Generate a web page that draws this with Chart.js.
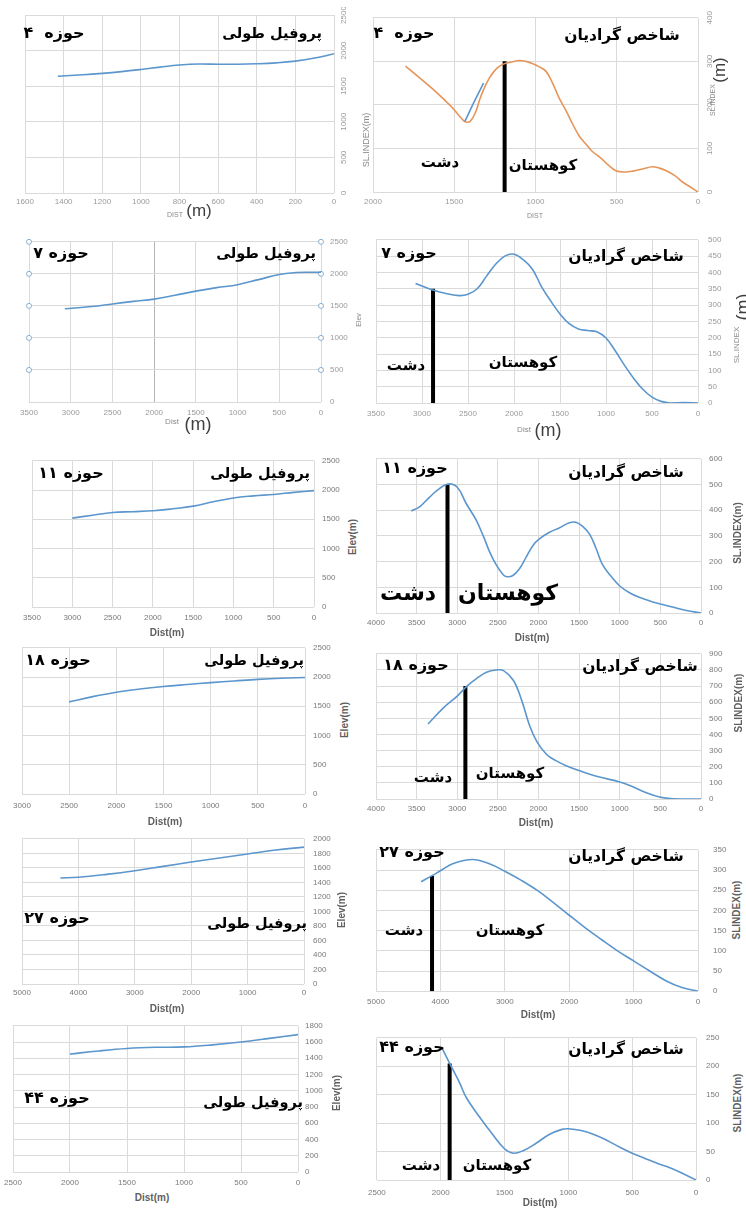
<!DOCTYPE html>
<html>
<head>
<meta charset="utf-8">
<title>Longitudinal profiles and SL index</title>
<script src="https://cdn.jsdelivr.net/npm/chart.js@4.4.1/dist/chart.umd.min.js"></script>
<style>
  body { margin: 0; background: #fff; }
  #sheet { position: relative; width: 746px; height: 1211px; overflow: hidden; background: #fff; }
  #sheet canvas { position: absolute; }
  .lbl { position: absolute; white-space: pre; line-height: 1; transform: translate(-50%, -50%); }
  .lbl.rot { transform: translate(-50%, -50%) rotate(-90deg); }
  .fa { font-family: 'DejaVu Sans', sans-serif; font-weight: bold; color: #000; direction: rtl; }
  .ax { font-family: 'Liberation Sans', sans-serif; color: #8a8a8a; }
  .axm { font-family: 'Liberation Sans', sans-serif; color: #3f3f3f; }
  .axb { font-family: 'Liberation Sans', sans-serif; font-weight: bold; color: #5f5f5f; }
</style>
</head>
<body>
<div id="sheet"></div>
<script>
// ---- basin 4 ----
const b4ProfileDist = [1430, 1300, 1200, 1100, 1000, 900, 800, 700, 600, 500, 400, 300, 200, 100, 0];
const b4ProfileElev = [1640, 1660, 1680, 1705, 1735, 1768, 1797, 1812, 1808, 1808, 1815, 1828, 1852, 1895, 1955];
const b4SlDist = [1800, 1700, 1640, 1570, 1510, 1470, 1440, 1420, 1400, 1370, 1340, 1310, 1285, 1255, 1225, 1180, 1140, 1100, 1060, 1020, 980, 935, 895, 855, 810, 770, 730, 690, 650, 605, 555, 505, 450, 400, 340, 280, 240, 195, 140, 95, 45, 0];
const b4Sl = [289, 258, 239, 215, 193, 175, 163, 160, 163, 182, 216, 243, 261, 277, 288, 296, 299, 302, 300, 295, 288, 277, 250, 216, 185, 155, 128, 110, 93, 80, 63, 49, 46, 48, 53, 58, 55, 49, 37, 23, 11, 0];
const b4SlAltDist = [1435, 1380, 1320];
const b4SlAlt = [162, 205, 250];

// ---- basin 7 ----
const b7ProfileDist = [3070, 2750, 2500, 2250, 2000, 1750, 1500, 1250, 1000, 750, 500, 300, 150, 0];
const b7ProfileElev = [1455, 1490, 1530, 1570, 1605, 1665, 1730, 1785, 1830, 1910, 1990, 2020, 2025, 2025];
const b7MarkerDist = [3500, 0];
const b7MarkerElev = [500, 1000, 1500, 2000, 2500];
const b7SlDist = [3070, 2900, 2750, 2600, 2500, 2400, 2300, 2200, 2100, 2000, 1900, 1800, 1700, 1600, 1500, 1400, 1300, 1200, 1100, 1000, 900, 800, 700, 600, 500, 400, 300, 150, 0];
const b7Sl = [366, 348, 336, 329, 333, 350, 388, 425, 450, 456, 439, 410, 356, 312, 273, 243, 227, 222, 218, 199, 160, 116, 76, 42, 18, 5, 0, 1, 0];

// ---- basin 11 ----
const b11ProfileDist = [3000, 2750, 2500, 2250, 2000, 1750, 1500, 1250, 1000, 750, 500, 250, 0];
const b11ProfileElev = [1520, 1570, 1615, 1630, 1645, 1680, 1725, 1800, 1865, 1900, 1925, 1960, 1990];
const b11SlDist = [3566, 3460, 3340, 3240, 3115, 3000, 2890, 2770, 2680, 2600, 2520, 2440, 2400, 2320, 2230, 2150, 2070, 1990, 1870, 1740, 1620, 1540, 1460, 1370, 1290, 1210, 1090, 1000, 880, 760, 640, 500, 350, 180, 0];
const b11Sl = [397, 414, 451, 479, 502, 489, 426, 363, 300, 237, 187, 151, 142, 145, 174, 218, 262, 288, 313, 332, 351, 353, 338, 306, 250, 187, 136, 105, 79, 61, 48, 35, 23, 10, 0];

// ---- basin 18 ----
const b18ProfileDist = [2500, 2250, 2000, 1750, 1500, 1250, 1000, 750, 500, 250, 0];
const b18ProfileElev = [1575, 1665, 1740, 1795, 1838, 1872, 1904, 1932, 1960, 1980, 1992];
const b18SlDist = [3360, 3170, 3000, 2880, 2760, 2640, 2520, 2430, 2310, 2210, 2110, 2020, 1900, 1780, 1660, 1500, 1250, 1000, 840, 680, 510, 350, 0];
const b18Sl = [465, 565, 638, 700, 748, 786, 800, 796, 736, 616, 456, 356, 276, 236, 206, 176, 136, 106, 76, 40, 12, 2, 0];

// ---- basin 27 ----
const b27ProfileDist = [4320, 4000, 3500, 3000, 2500, 2000, 1500, 1000, 500, 0];
const b27ProfileElev = [1460, 1470, 1510, 1560, 1620, 1680, 1735, 1790, 1845, 1885];
const b27SlDist = [4300, 4130, 4000, 3800, 3500, 3250, 3000, 2750, 2500, 2250, 2000, 1750, 1500, 1250, 1000, 750, 500, 250, 0];
const b27Sl = [271, 286, 298, 316, 326, 316, 297, 275, 250, 220, 188, 157, 128, 100, 75, 50, 26, 9, 0];

// ---- basin 44 ----
const b44ProfileDist = [2000, 1750, 1500, 1250, 1000, 750, 500, 250, 0];
const b44ProfileElev = [1452, 1490, 1520, 1535, 1540, 1565, 1600, 1645, 1692];
const b44SlDist = [1990, 1930, 1850, 1800, 1700, 1600, 1500, 1430, 1350, 1250, 1150, 1050, 1000, 900, 800, 700, 600, 500, 400, 300, 200, 100, 0];
const b44Sl = [232, 205, 170, 145, 112, 82, 55, 47, 52, 65, 80, 89, 90, 87, 80, 70, 58, 47, 38, 29, 21, 11, 0];

// plain / mountain boundary per basin (4, 7, 11, 18, 27, 44)
const divideDist = [1190, 2880, 3120, 2900, 4130, 1930];
const divideTop = [300, 350, 500, 700, 285, 205];

const BLUE = '#5b96cd';
const ORANGE = '#e6955a';
const GRID = '#dadada';

function pts(xs, ys) {
    return xs.map((x, i) => ({ x: x, y: ys[i] }));
}

function curve(xs, ys, color) {
    return { data: pts(xs, ys), borderColor: color || BLUE, borderWidth: 1.6, pointRadius: 0, tension: 0.4 };
}

function divider(i) {
    return { data: pts([divideDist[i], divideDist[i]], [0, divideTop[i]]), borderColor: '#000',
             borderWidth: 4, pointRadius: 0, tension: 0 };
}

// hollow markers along both edges of the basin 7 profile
const b7Markers = [];
b7MarkerDist.forEach(d => b7MarkerElev.forEach(e => b7Markers.push({ x: d, y: e })));

const panels = [
    { l: 25, t: 15, r: 334, b: 193, xMax: 1600, xStep: 200, yMax: 2500, yStep: 500, yw: 16, yPad: 1, xPad: 4,
      rotY: true, light: true, sets: [curve(b4ProfileDist, b4ProfileElev)] },
    { l: 373, t: 16, r: 698, b: 192, xMax: 2000, xStep: 500, yMax: 400, yStep: 100, yw: 20, yPad: 5, xPad: 5,
      rotY: true, light: true,
      sets: [curve(b4SlAltDist, b4SlAlt), curve(b4SlDist, b4Sl, ORANGE), divider(0)] },
    { l: 29, t: 236, r: 321, b: 402, xMax: 3500, xStep: 500, yMax: 2500, yStep: 500, yw: 30, yPad: 9, xPad: 6,
      light: true, accentX: 2000,
      sets: [curve(b7ProfileDist, b7ProfileElev),
             { type: 'scatter', data: b7Markers, pointRadius: 2.5, borderWidth: 1, pointBackgroundColor: '#fff',
               borderColor: '#8aaed0', showLine: false, clip: false }] },
    { l: 376, t: 233, r: 698, b: 403, xMax: 3500, xStep: 500, yMax: 500, yStep: 50, yw: 30, yPad: 10, xPad: 6,
      light: true, sets: [curve(b7SlDist, b7Sl), divider(1)] },
    { l: 32, t: 456, r: 314, b: 607, xMax: 3500, xStep: 500, yMax: 2500, yStep: 500, yw: 30, yPad: 8, xPad: 6,
      sets: [curve(b11ProfileDist, b11ProfileElev)] },
    { l: 376, t: 454, r: 701, b: 613, xMax: 4000, xStep: 500, yMax: 600, yStep: 100, yw: 30, yPad: 8, xPad: 5,
      sets: [curve(b11SlDist, b11Sl), divider(2)] },
    { l: 22, t: 643, r: 305, b: 794, xMax: 3000, xStep: 500, yMax: 2500, yStep: 500, yw: 30, yPad: 8, xPad: 7,
      sets: [curve(b18ProfileDist, b18ProfileElev)] },
    { l: 376, t: 649, r: 701, b: 799, xMax: 4000, xStep: 500, yMax: 900, yStep: 100, yw: 30, yPad: 8, xPad: 5,
      sets: [curve(b18SlDist, b18Sl), divider(3)] },
    { l: 22, t: 833, r: 304, b: 984, xMax: 5000, xStep: 1000, yMax: 2000, yStep: 200, yw: 30, yPad: 9, xPad: 4,
      sets: [curve(b27ProfileDist, b27ProfileElev)] },
    { l: 376, t: 838, r: 698, b: 993, xMax: 5000, xStep: 1000, yMax: 350, yStep: 50, yw: 30, yPad: 15, xPad: 6,
      sets: [curve(b27SlDist, b27Sl), divider(4)] },
    { l: 13, t: 1022, r: 298, b: 1172, xMax: 2500, xStep: 500, yMax: 1800, yStep: 200, yw: 30, yPad: 7, xPad: 6,
      sets: [curve(b44ProfileDist, b44ProfileElev)] },
    { l: 376, t: 1031, r: 696, b: 1180, xMax: 2500, xStep: 500, yMax: 250, yStep: 50, yw: 30, yPad: 10, xPad: 8,
      sets: [curve(b44SlDist, b44Sl), divider(5)] }
];

// text placed over the charts: [text, centre x, centre y, size, classes]
const labels = [
    ['حوزه  ۴', 54, 33, 16, 'fa'], ['پروفیل طولی', 272, 33, 14.5, 'fa'],
    ['DIST', 175, 214, 7, 'ax'], ['(m)', 199, 210, 17, 'axm'], ['SL.INDEX(m)', 366, 140, 9, 'ax rot'],

    ['حوزه  ۴', 404, 33, 16, 'fa'], ['شاخص گرادیان', 622, 36, 15.5, 'fa'],
    ['دشت', 440, 162, 15, 'fa'], ['کوهستان', 543, 165, 15, 'fa'],
    ['DIST', 535, 215, 7, 'ax'], ['SL.INDEX', 712, 100, 7, 'ax rot'], ['(m)', 719, 70, 17, 'axm rot'],

    ['حوزه ۷', 61, 253, 16, 'fa'], ['پروفیل طولی', 266, 253, 14.5, 'fa'],
    ['Dist', 172, 422, 8, 'ax'], ['(m)', 198, 424, 18, 'axm'], ['Elev', 358, 320, 7, 'ax rot'],

    ['حوزه ۷', 409, 253, 16, 'fa'], ['شاخص گرادیان', 626, 257, 15.5, 'fa'],
    ['دشت', 406, 365, 15, 'fa'], ['کوهستان', 523, 362, 15, 'fa'],
    ['Dist', 524, 430, 8, 'ax'], ['(m)', 548, 430, 18, 'axm'],
    ['SL.INDEX', 737, 345, 8, 'ax rot'], ['(m)', 743, 307, 18, 'axm rot'],

    ['حوزه ۱۱', 71, 473, 16, 'fa'], ['پروفیل طولی', 260, 473, 14.5, 'fa'],
    ['Dist(m)', 167, 633, 10, 'axb'], ['Elev(m)', 353, 537, 10, 'axb rot'],

    ['حوزه ۱۱', 415, 468, 16, 'fa'], ['شاخص گرادیان', 626, 473, 15.5, 'fa'],
    ['دشت', 408, 593, 22, 'fa'], ['کوهستان', 508, 593, 22, 'fa'],
    ['SL.INDEX(m)', 738, 533, 10, 'axb rot'], ['Dist(m)', 532, 638, 10, 'axb'],

    ['حوزه ۱۸', 58, 660, 16, 'fa'], ['پروفیل طولی', 254, 660, 14.5, 'fa'],
    ['Elev(m)', 345, 720, 10, 'axb rot'], ['Dist(m)', 165, 822, 10, 'axb'],

    ['حوزه ۱۸', 416, 665, 16, 'fa'], ['شاخص گرادیان', 640, 667, 15.5, 'fa'],
    ['دشت', 433, 777, 15, 'fa'], ['کوهستان', 510, 773, 15, 'fa'],
    ['SLINDEX(m)', 739, 703, 10, 'axb rot'], ['Dist(m)', 536, 823, 10, 'axb'],

    ['حوزه ۲۷', 57, 918, 16, 'fa'], ['پروفیل طولی', 257, 923, 14.5, 'fa'],
    ['Elev(m)', 342, 910, 10, 'axb rot'], ['Dist(m)', 167, 1009, 10, 'axb'],

    ['حوزه ۲۷', 412, 852, 16, 'fa'], ['شاخص گرادیان', 626, 857, 15.5, 'fa'],
    ['دشت', 404, 930, 15, 'fa'], ['کوهستان', 510, 930, 15, 'fa'],
    ['SLINDEX(m)', 737, 910, 10, 'axb rot'], ['Dist(m)', 538, 1015, 10, 'axb'],

    ['حوزه ۴۴', 57, 1098, 16, 'fa'], ['پروفیل طولی', 253, 1102, 14.5, 'fa'],
    ['Elev(m)', 337, 1093, 10, 'axb rot'], ['Dist(m)', 152, 1198, 10, 'axb'],

    ['حوزه ۴۴', 412, 1047, 16, 'fa'], ['شاخص گرادیان', 626, 1050, 15.5, 'fa'],
    ['دشت', 421, 1165, 15, 'fa'], ['کوهستان', 497, 1165, 15, 'fa'],
    ['SLINDEX(m)', 738, 1103, 10, 'axb rot'], ['Dist(m)', 540, 1203, 10, 'axb']
];

const sheet = document.getElementById('sheet');

function buildPanel(p) {
    const padL = 16, padT = 8, xh = 18;
    const canvas = document.createElement('canvas');
    canvas.width = padL + (p.r - p.l) + p.yw;
    canvas.height = padT + (p.b - p.t) + xh;
    canvas.style.left = (p.l - padL) + 'px';
    canvas.style.top = (p.t - padT) + 'px';
    sheet.appendChild(canvas);

    const tickFont = { family: 'Liberation Sans', size: 8 };
    const tickColor = p.light ? '#9a9a9a' : '#7a7a7a';
    const plain = v => String(v);

    new Chart(canvas, {
        type: 'line',
        data: { datasets: p.sets },
        options: {
            responsive: false,
            animation: false,
            events: [],
            layout: { padding: { left: padL, top: padT, right: 0, bottom: 0 } },
            plugins: { legend: { display: false }, tooltip: { enabled: false } },
            scales: {
                x: {
                    type: 'linear', reverse: true, min: 0, max: p.xMax,
                    ticks: { stepSize: p.xStep, autoSkip: false, maxRotation: 0, padding: p.xPad,
                             font: tickFont, color: tickColor, callback: plain },
                    grid: { drawTicks: false,
                            color: c => (p.accentX !== undefined && c.tick && c.tick.value === p.accentX) ? '#b5b5b5' : GRID },
                    border: { display: false },
                    afterFit: s => { s.height = xh; }
                },
                y: {
                    position: 'right', min: 0, max: p.yMax,
                    ticks: { stepSize: p.yStep, autoSkip: false, padding: p.yPad, font: tickFont, color: tickColor,
                             minRotation: p.rotY ? 90 : 0, maxRotation: p.rotY ? 90 : 0,
                             crossAlign: p.rotY ? 'center' : 'near', callback: plain },
                    grid: { drawTicks: false, color: GRID },
                    border: { display: false },
                    afterFit: s => { s.width = p.yw; }
                }
            }
        }
    });
}

panels.forEach(buildPanel);

labels.forEach(([text, x, y, size, cls]) => {
    const el = document.createElement('div');
    el.className = 'lbl ' + cls;
    el.textContent = text;
    el.style.left = x + 'px';
    el.style.top = y + 'px';
    el.style.fontSize = size + 'px';
    sheet.appendChild(el);
});
</script>
</body>
</html>
